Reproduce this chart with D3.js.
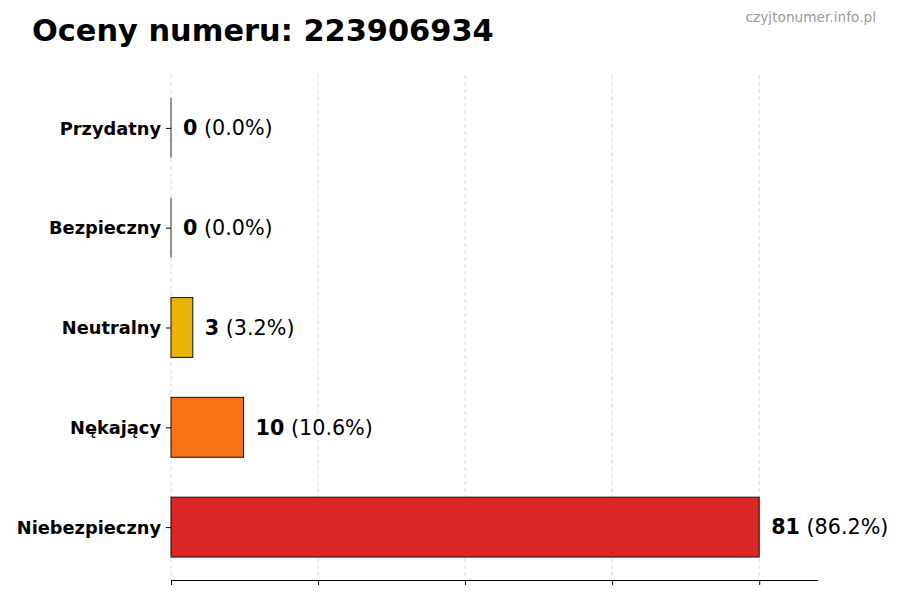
<!DOCTYPE html>
<html>
<head>
<meta charset="utf-8">
<script src="https://cdn.jsdelivr.net/npm/d3@7"></script>
<style>
  html, body { margin: 0; padding: 0; background: #fff; }
  svg { display: block; font-family: "DejaVu Sans", sans-serif; }
</style>
</head>
<body>
<svg id="chart" width="900" height="600"></svg>
<script>
const categories = ["Przydatny", "Bezpieczny", "Neutralny", "Nękający", "Niebezpieczny"];
const counts = [0, 0, 3, 10, 81];
const percents = ["0.0%", "0.0%", "3.2%", "10.6%", "86.2%"];
const colors = ["#3b82f6", "#22c55e", "#eab308", "#f97316", "#dc2626"];
const titleText = "Oceny numeru: 223906934";
const watermark = "czyjtonumer.info.pl";

(function () {
const svg = d3.select("#chart");
const maxV = d3.max(counts);
const mLeft = 171, mRight = 818, mTop = 75, mBottom = 580;

const x = d3.scaleLinear().domain([0, maxV * 1.1]).range([mLeft, mRight]);
const n = categories.length;
const y = d3.scaleLinear().domain([-0.53, n - 1 + 0.53]).range([mBottom, mTop]);
const pos = i => n - 1 - i;
const barH = y(0) - y(0.6);

const xticks = d3.range(5).map(k => maxV * k / 4);

// grid
svg.append("g").selectAll("line").data(xticks).join("line")
  .attr("x1", d => x(d)).attr("x2", d => x(d))
  .attr("y1", mTop).attr("y2", mBottom)
  .attr("stroke", "#b0b0b0").attr("stroke-opacity", 0.6)
  .attr("stroke-width", 0.8).attr("stroke-dasharray", "4,3");

// bars
svg.append("g").selectAll("rect").data(counts).join("rect")
  .attr("x", x(0))
  .attr("y", (d, i) => y(pos(i)) - barH / 2)
  .attr("width", d => x(d) - x(0))
  .attr("height", barH)
  .attr("fill", (d, i) => colors[i])
  .attr("stroke", "#111").attr("stroke-width", 1);

// edge of zero-width bars
svg.append("g").selectAll("line").data(counts.map((d, i) => ({d, i})).filter(o => o.d === 0)).join("line")
  .attr("x1", o => x(o.d)).attr("x2", o => x(o.d))
  .attr("y1", o => y(pos(o.i)) - barH / 2).attr("y2", o => y(pos(o.i)) + barH / 2)
  .attr("stroke", "#333").attr("stroke-width", 1);

// x axis (no labels)
const xAxis = d3.axisBottom(x).tickValues(xticks).tickFormat("").tickSize(5).tickSizeOuter(0);
const gx = svg.append("g").attr("transform", `translate(0,${mBottom})`).call(xAxis);
gx.select(".domain").attr("stroke", "#000").attr("stroke-width", 1)
  .attr("d", `M${mLeft},0.5H${mRight}`);
gx.selectAll(".tick line").attr("stroke", "#000");

// y axis
const yAxis = d3.axisLeft(y).tickValues(d3.range(n)).tickFormat(v => categories[n - 1 - v]).tickSize(5).tickPadding(5);
const gy = svg.append("g").attr("transform", `translate(${mLeft},0)`).call(yAxis);
gy.select(".domain").remove();
gy.selectAll(".tick line").attr("stroke", "#000");
gy.selectAll(".tick text")
  .attr("font-family", "DejaVu Sans").attr("font-size", 17.8).attr("font-weight", "bold")
  .attr("fill", "#000").attr("dy", "0.35em");

// value labels
const lbl = svg.append("g").selectAll("text").data(counts).join("text")
  .attr("x", d => x(d) + 12)
  .attr("y", (d, i) => y(pos(i)))
  .attr("dy", "0.35em")
  .attr("font-size", 20.7).attr("fill", "#000");
lbl.append("tspan").attr("font-weight", "bold").text(d => d);
lbl.append("tspan").text((d, i) => " (" + percents[i] + ")");

// title
svg.append("text").attr("x", 32).attr("y", 41)
  .attr("font-size", 30.4).attr("font-weight", "bold").attr("fill", "#000")
  .text(titleText);

// watermark
svg.append("text").attr("x", 876).attr("y", 22).attr("text-anchor", "end")
  .attr("font-size", 13.7).attr("fill", "#999")
  .text(watermark);
})();
</script>
</body>
</html>
